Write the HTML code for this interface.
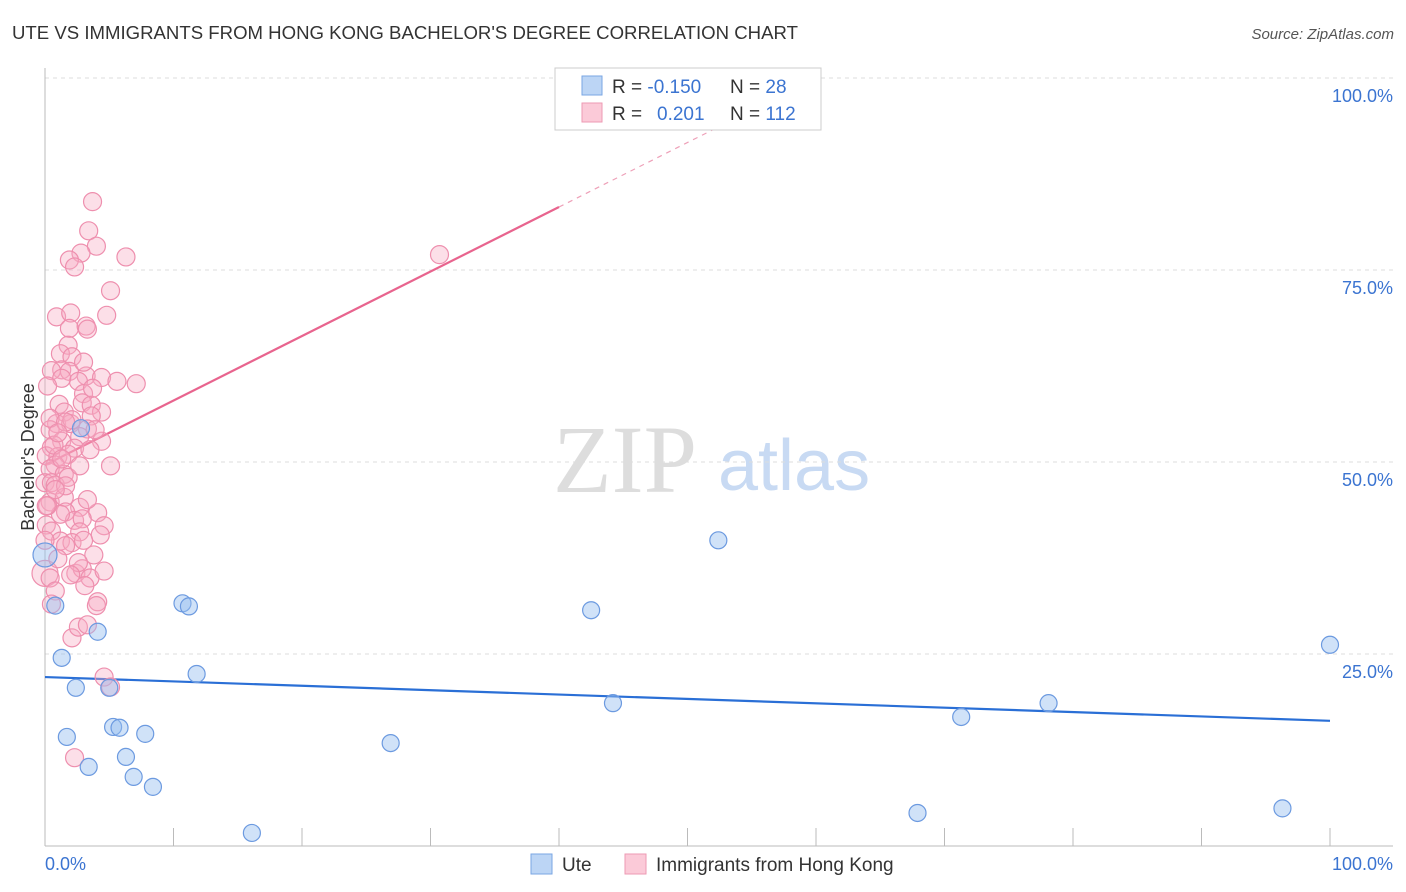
<!DOCTYPE html>
<html><head><meta charset="utf-8"><style>
body{margin:0;background:#fff;font-family:"Liberation Sans",sans-serif;}
#wrap{position:relative;width:1406px;height:892px;overflow:hidden;}
</style></head><body>
<div id="wrap">
<svg id="svg" width="1406" height="892" xmlns="http://www.w3.org/2000/svg">
<text x="12" y="39" font-size="18.6" fill="#333">UTE VS IMMIGRANTS FROM HONG KONG BACHELOR'S DEGREE CORRELATION CHART</text>
<text x="1394" y="39" font-size="15" fill="#555" font-style="italic" text-anchor="end">Source: ZipAtlas.com</text>
<text transform="translate(34,457) rotate(-90)" font-size="18" fill="#333" text-anchor="middle">Bachelor's Degree</text>
<g>
<text x="553" y="492" font-size="96" font-family="Liberation Serif,serif" fill="#ddd">ZIP</text>
<text x="718" y="490" font-size="72" fill="#c8daf3">atlas</text>
</g>
<g id="grid"></g><g id="axes"></g><g id="trend"></g><g id="pts"></g>
<g>
<rect x="555" y="68" width="266" height="62" fill="#fff" stroke="#ccc"/>
<rect x="582" y="76" width="20" height="19" fill="#bcd5f5" stroke="#7aa6e3"/>
<rect x="582" y="103" width="20" height="19" fill="#fbcad8" stroke="#ee9ab3"/>
<text x="612" y="93" font-size="19" fill="#333">R = <tspan fill="#3b74d1">-0.150</tspan></text>
<text x="730" y="93" font-size="19" fill="#333">N = <tspan fill="#3b74d1">28</tspan></text>
<text x="612" y="120" font-size="19" fill="#333">R = <tspan fill="#3b74d1" x="657">0.201</tspan></text>
<text x="730" y="120" font-size="19" fill="#333">N = <tspan fill="#3b74d1">112</tspan></text>
</g>
<g>
<rect x="531" y="854" width="21" height="20" fill="#bcd5f5" stroke="#7aa6e3"/>
<text x="562" y="871" font-size="19" fill="#333">Ute</text>
<rect x="625" y="854" width="21" height="20" fill="#fbcad8" stroke="#ee9ab3"/>
<text x="656" y="871" font-size="19" fill="#333">Immigrants from Hong Kong</text>
</g>
</svg>
</div>
<script>
const yTicks=[25,50,75,100];
const yTickLabels=["25.0%","50.0%","75.0%","100.0%"];
const xTickLabels=["0.0%","100.0%"];
const blueX=[0,0.8,1.3,1.7,2.4,2.8,3.4,4.1,5.0,5.3,5.8,6.3,6.9,7.8,8.4,10.7,11.2,11.8,16.1,26.9,42.5,44.2,52.4,71.3,78.1,96.3,100,67.9];
const blueY=[37.9,31.3,24.5,14.2,20.6,54.4,10.3,27.9,20.6,15.5,15.4,11.6,9.0,14.6,7.7,31.6,31.2,22.4,1.7,13.4,30.7,18.6,39.8,16.8,18.6,4.9,26.2,4.3];
const pinkX=[3.7,3.4,4.0,2.8,1.9,2.3,6.3,5.1,4.8,0.9,2.0,1.9,3.2,3.3,1.8,1.2,2.1,1.3,1.9,0.5,3.2,4.4,5.6,7.1,2.6,3.0,1.1,2.9,3.6,1.5,4.4,3.6,0.9,2.0,0.4,3.3,1.3,4.4,2.7,0.5,2.3,3.5,0.1,1.0,1.8,0.8,5.1,0.4,1.5,0,0.5,0.8,1.8,0.4,1.5,2.7,1.6,4.1,2.3,2.9,2.7,0.1,0.5,1.2,2.1,1.6,3.8,0,0.4,0.8,2.4,2.9,3.5,4.6,3.1,4.1,0.5,2.1,2.6,3.3,4.6,5.1,2.3,0,1.2,0.4,1.3,0.2,3.0,3.7,3.9,4.6,4.3,2.6,1.6,0.8,0.2,2.0,1.0,30.7,2.1,2.7,4.0,0.7,1.3,0.1,1.6,1.0,3.3,3.0];
const pinkY=[83.9,80.1,78.1,77.2,76.3,75.4,76.7,72.3,69.1,68.9,69.4,67.4,67.7,67.3,65.2,64.1,63.7,62.0,61.8,61.9,61.2,61.0,60.5,60.2,60.5,58.9,57.5,57.7,57.4,56.5,56.5,56.0,55.0,55.0,54.2,54.3,52.7,52.7,53.3,51.9,51.8,51.6,50.8,50.7,51.0,49.6,49.5,49.1,48.4,47.3,47.3,47.0,48.0,44.8,45.4,44.1,43.5,43.4,42.4,42.6,40.9,41.8,41.0,39.7,39.5,39.1,37.9,35.5,34.9,33.2,35.5,36.1,34.9,35.8,33.9,31.8,31.5,27.1,28.5,28.8,22.0,20.7,11.5,39.8,43.2,55.7,60.9,59.9,63.0,59.6,54.2,41.7,40.5,36.9,46.9,46.4,44.3,35.3,37.4,77.0,55.5,49.5,31.3,52.2,50.4,44.3,55.2,53.8,45.1,39.8];
const blueTrend=[22.0,-0.057];
const pinkTrend=[49.6,0.84];
const X0=45,X1=1330,Y0=846,Y100=78;
const sx=v=>X0+(X1-X0)*v/100, sy=v=>Y0-(Y0-Y100)*v/100;
const NS="http://www.w3.org/2000/svg";
function mk(t,a,p){const e=document.createElementNS(NS,t);for(const k in a)e.setAttribute(k,a[k]);p.appendChild(e);return e;}
const grid=document.getElementById('grid'),axes=document.getElementById('axes'),trend=document.getElementById('trend'),pts=document.getElementById('pts');
yTicks.forEach((t,i)=>{
 const g=mk('line',{x1:X0,x2:1393,y1:sy(t),y2:sy(t),stroke:'#ddd','stroke-dasharray':'4,4'},grid);
 
 
 const l=mk('text',{x:1393,y:sy(t)+24,'font-size':18,fill:'#3b74d1','text-anchor':'end'},axes);
 l.textContent=yTickLabels[i];
 
 
});
const xa=mk('line',{x1:X0,x2:1393,y1:Y0,y2:Y0,stroke:'#bbb'},axes);


const ya=mk('line',{x1:X0,x2:X0,y1:68,y2:Y0,stroke:'#bbb'},axes);


for(let i=0;i<=10;i++){const t=mk('line',{x1:sx(i*10),x2:sx(i*10),y1:828,y2:Y0,stroke:'#bbb'},axes);
 
 }
[[0,'start',45],[100,'end',1393]].forEach((d,i)=>{const l=mk('text',{x:d[2],y:870,'font-size':18,fill:'#3b74d1','text-anchor':d[1]},axes);l.textContent=xTickLabels[i];
 
 });
const bt=mk('line',{x1:sx(0),y1:sy(blueTrend[0]),x2:sx(100),y2:sy(blueTrend[0]+100*blueTrend[1]),stroke:'#2a6fd6','stroke-width':2.2},trend);


const pt=mk('line',{x1:sx(0),y1:sy(pinkTrend[0]),x2:sx(40),y2:sy(pinkTrend[0]+40*pinkTrend[1]),stroke:'#e8648e','stroke-width':2.2},trend);


const pd=mk('line',{x1:sx(40),y1:sy(pinkTrend[0]+40*pinkTrend[1]),x2:sx(55),y2:sy(pinkTrend[0]+55*pinkTrend[1]),stroke:'#eea0b8','stroke-width':1.2,'stroke-dasharray':'5,5'},trend);


pinkX.forEach((x,i)=>{const c=mk('circle',{cx:sx(x),cy:sy(pinkY[i]),r:(i==67?13:9),fill:'rgba(248,170,195,0.38)',stroke:'#ee8fae','stroke-width':1.2},pts);
 
 });
blueX.forEach((x,i)=>{const c=mk('circle',{cx:sx(x),cy:sy(blueY[i]),r:(i==0?12:8.5),fill:'rgba(150,190,240,0.45)',stroke:'#6c9ae0','stroke-width':1.2},pts);
 
 });
</script>
</body></html>
